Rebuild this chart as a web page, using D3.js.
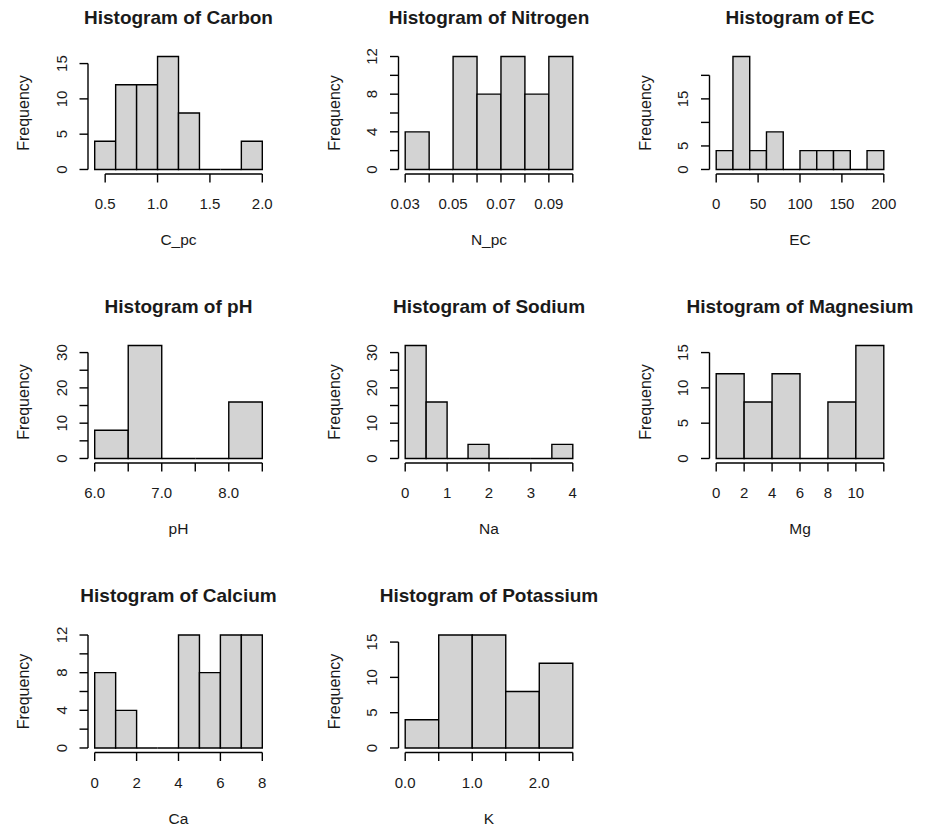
<!DOCTYPE html>
<html>
<head>
    <title>Soil Histograms</title>
    <script src="https://cdnjs.cloudflare.com/ajax/libs/d3/7.8.5/d3.min.js"></script>
    <style>
        body {
            margin: 0;
            background-color: white;
            font-family: "Liberation Sans", Arial, sans-serif;
        }
        #chart {
            width: 928px;
            height: 827px;
        }
    </style>
</head>
<body>
    <div id="chart"></div>

    <script>
        // Bin edges and counts
        const carbonBreaks = [0.4, 0.6, 0.8, 1.0, 1.2, 1.4, 1.6, 1.8, 2.0];
        const carbonCounts = [4, 12, 12, 16, 8, 0, 0, 4];
        const nitrogenBreaks = [0.03, 0.04, 0.05, 0.06, 0.07, 0.08, 0.09, 0.10];
        const nitrogenCounts = [4, 0, 12, 8, 12, 8, 12];
        const ecBreaks = [0, 20, 40, 60, 80, 100, 120, 140, 160, 180, 200];
        const ecCounts = [4, 24, 4, 8, 0, 4, 4, 4, 0, 4];
        const phBreaks = [6.0, 6.5, 7.0, 7.5, 8.0, 8.5];
        const phCounts = [8, 32, 0, 0, 16];
        const naBreaks = [0, 0.5, 1, 1.5, 2, 2.5, 3, 3.5, 4];
        const naCounts = [32, 16, 0, 4, 0, 0, 0, 4];
        const mgBreaks = [0, 2, 4, 6, 8, 10, 12];
        const mgCounts = [12, 8, 12, 0, 8, 16];
        const caBreaks = [0, 1, 2, 3, 4, 5, 6, 7, 8];
        const caCounts = [8, 4, 0, 0, 12, 8, 12, 12];
        const kBreaks = [0, 0.5, 1.0, 1.5, 2.0, 2.5];
        const kCounts = [4, 16, 16, 8, 12];

        // Axis ticks and the labels R kept ("" = label dropped)
        const carbonXTicks = [0.5, 1.0, 1.5, 2.0];
        const carbonXLabels = ['0.5', '1.0', '1.5', '2.0'];
        const nitrogenXTicks = [0.03, 0.04, 0.05, 0.06, 0.07, 0.08, 0.09, 0.10];
        const nitrogenXLabels = ['0.03', '', '0.05', '', '0.07', '', '0.09', ''];
        const ecXTicks = [0, 50, 100, 150, 200];
        const ecXLabels = ['0', '50', '100', '150', '200'];
        const phXTicks = [6.0, 6.5, 7.0, 7.5, 8.0, 8.5];
        const phXLabels = ['6.0', '', '7.0', '', '8.0', ''];
        const naXTicks = [0, 1, 2, 3, 4];
        const naXLabels = ['0', '1', '2', '3', '4'];
        const mgXTicks = [0, 2, 4, 6, 8, 10, 12];
        const mgXLabels = ['0', '2', '4', '6', '8', '10', ''];
        const caXTicks = [0, 2, 4, 6, 8];
        const caXLabels = ['0', '2', '4', '6', '8'];
        const kXTicks = [0, 0.5, 1.0, 1.5, 2.0, 2.5];
        const kXLabels = ['0.0', '', '1.0', '', '2.0', ''];

        const yTicks5 = [0, 5, 10, 15];
        const yLabels5 = ['0', '5', '10', '15'];
        const nitrogenYTicks = [0, 2, 4, 6, 8, 10, 12];
        const nitrogenYLabels = ['0', '', '4', '', '8', '', '12'];
        const ecYTicks = [0, 5, 10, 15, 20];
        const ecYLabels = ['0', '5', '', '15', ''];
        const y30Ticks = [0, 5, 10, 15, 20, 25, 30];
        const y30Labels = ['0', '', '10', '', '20', '', '30'];

        const titles = ['Carbon', 'Nitrogen', 'EC', 'pH', 'Sodium', 'Magnesium', 'Calcium', 'Potassium'];
        const xNames = ['C_pc', 'N_pc', 'EC', 'pH', 'Na', 'Mg', 'Ca', 'K'];

        const panels = [
            {breaks: carbonBreaks, counts: carbonCounts, xt: carbonXTicks, xl: carbonXLabels, yt: yTicks5, yl: yLabels5},
            {breaks: nitrogenBreaks, counts: nitrogenCounts, xt: nitrogenXTicks, xl: nitrogenXLabels, yt: nitrogenYTicks, yl: nitrogenYLabels},
            {breaks: ecBreaks, counts: ecCounts, xt: ecXTicks, xl: ecXLabels, yt: ecYTicks, yl: ecYLabels},
            {breaks: phBreaks, counts: phCounts, xt: phXTicks, xl: phXLabels, yt: y30Ticks, yl: y30Labels},
            {breaks: naBreaks, counts: naCounts, xt: naXTicks, xl: naXLabels, yt: y30Ticks, yl: y30Labels},
            {breaks: mgBreaks, counts: mgCounts, xt: mgXTicks, xl: mgXLabels, yt: yTicks5, yl: yLabels5},
            {breaks: caBreaks, counts: caCounts, xt: caXTicks, xl: caXLabels, yt: nitrogenYTicks, yl: nitrogenYLabels},
            {breaks: kBreaks, counts: kCounts, xt: kXTicks, xl: kXLabels, yt: yTicks5, yl: yLabels5}
        ].map((p, i) => ({...p, title: 'Histogram of ' + titles[i], xName: xNames[i]}));

        // Layout of the 3x3 grid (plot regions)
        const W = 181, H = 122;
        const colX = [88, 398.5, 709.5];
        const rowY = [52, 341, 630.5];
        const tickLen = 8.5;
        const textColor = '#1a1a1a';

        const svg = d3.select('#chart')
            .append('svg')
                .attr('width', 928)
                .attr('height', 827);

        panels.forEach((p, i) => {
            const left = colX[i % 3];
            const top = rowY[Math.floor(i / 3)];
            const bottom = top + H;

            // R style scales: 4% padding on each side
            const [x0, x1] = d3.extent(p.breaks);
            const xPad = (x1 - x0) * 0.04;
            const x = d3.scaleLinear()
                .domain([x0 - xPad, x1 + xPad])
                .range([left, left + W]);

            const yMax = d3.max(p.counts);
            const y = d3.scaleLinear()
                .domain([-yMax * 0.04, yMax * 1.04])
                .range([bottom, top]);

            const g = svg.append('g');

            // Bars (zero counts still show as a flat line)
            g.selectAll('path.bar')
                .data(p.counts)
                .join('path')
                    .attr('class', 'bar')
                    .attr('fill', '#d3d3d3')
                    .attr('stroke', 'black')
                    .attr('stroke-width', 1.4)
                    .attr('d', (d, j) => {
                        const a = x(p.breaks[j]), b = x(p.breaks[j + 1]);
                        return `M${a},${y(0)}V${y(d)}H${b}V${y(0)}Z`;
                    });

            // X axis
            const xAxis = g.append('g')
                .attr('stroke', 'black')
                .attr('stroke-width', 1.4);
            xAxis.append('line')
                .attr('x1', x(p.xt[0]))
                .attr('x2', x(p.xt[p.xt.length - 1]))
                .attr('y1', bottom)
                .attr('y2', bottom);
            xAxis.selectAll('line.tick')
                .data(p.xt)
                .join('line')
                    .attr('class', 'tick')
                    .attr('x1', d => x(d))
                    .attr('x2', d => x(d))
                    .attr('y1', bottom)
                    .attr('y2', bottom + tickLen);
            g.selectAll('text.xlab')
                .data(p.xt)
                .join('text')
                    .attr('class', 'xlab')
                    .attr('x', d => x(d))
                    .attr('y', bottom + 35)
                    .attr('text-anchor', 'middle')
                    .attr('fill', textColor)
                    .style('font-size', '15px')
                    .text((d, j) => p.xl[j]);

            // Y axis
            const yAxis = g.append('g')
                .attr('stroke', 'black')
                .attr('stroke-width', 1.4);
            yAxis.append('line')
                .attr('x1', left)
                .attr('x2', left)
                .attr('y1', y(p.yt[0]))
                .attr('y2', y(p.yt[p.yt.length - 1]));
            yAxis.selectAll('line.tick')
                .data(p.yt)
                .join('line')
                    .attr('class', 'tick')
                    .attr('x1', left - tickLen)
                    .attr('x2', left)
                    .attr('y1', d => y(d))
                    .attr('y2', d => y(d));
            g.selectAll('text.ylab')
                .data(p.yt)
                .join('text')
                    .attr('class', 'ylab')
                    .attr('transform', d => `translate(${left - 21.5},${y(d)}) rotate(-90)`)
                    .attr('text-anchor', 'middle')
                    .attr('fill', textColor)
                    .style('font-size', '15px')
                    .text((d, j) => p.yl[j]);

            // Title and axis names
            g.append('text')
                .attr('x', left + W / 2)
                .attr('y', top - 28.5)
                .attr('text-anchor', 'middle')
                .attr('fill', textColor)
                .style('font-size', '19px')
                .style('font-weight', 'bold')
                .text(p.title);

            g.append('text')
                .attr('x', left + W / 2)
                .attr('y', bottom + 71)
                .attr('text-anchor', 'middle')
                .attr('fill', textColor)
                .style('font-size', '15.5px')
                .text(p.xName);

            g.append('text')
                .attr('transform', `translate(${left - 59},${top + H / 2}) rotate(-90)`)
                .attr('text-anchor', 'middle')
                .attr('fill', textColor)
                .style('font-size', '16px')
                .text('Frequency');
        });
    </script>
</body>
</html>
